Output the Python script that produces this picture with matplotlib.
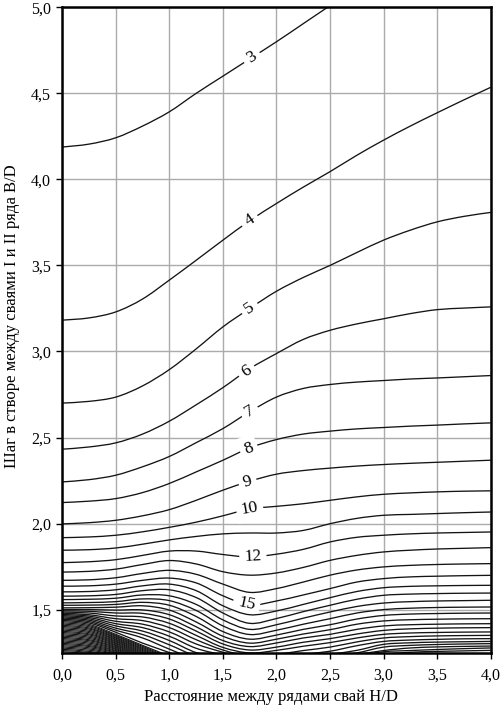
import numpy as np
import matplotlib
matplotlib.use('Agg')
import matplotlib.pyplot as plt
from matplotlib.path import Path
from matplotlib.patches import PathPatch

plt.rcParams['font.family'] = ['Liberation Serif', 'DejaVu Serif']

# ---- data ----
x_nodes = [0.0, 0.25, 0.5, 0.75, 1.0, 1.25, 1.5, 1.75, 2.0, 2.25, 2.5, 2.75, 3.0, 3.25, 3.5, 3.75, 4.0]

c03 = [4.188, 4.205, 4.242, 4.310, 4.393, 4.500, 4.600, 4.700, 4.800, 4.905, 5.010, None, None, None, None, None, None]
c04 = [3.182, 3.195, 3.230, 3.305, 3.415, 3.530, 3.647, 3.760, 3.860, 3.955, 4.045, 4.140, 4.228, 4.310, 4.387, 4.462, 4.535]
c05 = [2.700, 2.710, 2.735, 2.800, 2.895, 3.015, 3.143, 3.250, 3.350, 3.430, 3.500, 3.575, 3.647, 3.705, 3.753, 3.785, 3.808]
c06 = [2.432, 2.445, 2.469, 2.520, 2.595, 2.690, 2.790, 2.900, 2.988, 3.070, 3.123, 3.160, 3.190, 3.220, 3.243, 3.252, 3.259]
c07 = [2.242, 2.255, 2.281, 2.330, 2.390, 2.470, 2.552, 2.650, 2.735, 2.785, 2.808, 2.822, 2.831, 2.840, 2.846, 2.853, 2.860]
c08 = [2.122, 2.130, 2.145, 2.180, 2.233, 2.300, 2.368, 2.440, 2.488, 2.520, 2.537, 2.550, 2.558, 2.566, 2.572, 2.579, 2.585]
c09 = [1.998, 2.005, 2.019, 2.045, 2.081, 2.135, 2.194, 2.246, 2.287, 2.308, 2.322, 2.334, 2.343, 2.350, 2.356, 2.362, 2.368]
c10 = [1.918, 1.922, 1.932, 1.952, 1.978, 2.008, 2.045, 2.085, 2.100, 2.115, 2.135, 2.155, 2.170, 2.178, 2.184, 2.188, 2.190]
c11 = [1.845, 1.848, 1.858, 1.880, 1.905, 1.925, 1.940, 1.945, 1.945, 1.960, 1.999, 2.030, 2.048, 2.053, 2.058, 2.063, 2.067]
c12 = [1.773, 1.778, 1.790, 1.815, 1.840, 1.840, 1.820, 1.806, 1.822, 1.850, 1.893, 1.920, 1.932, 1.940, 1.945, 1.948, 1.951]
c13 = [1.718, 1.722, 1.735, 1.762, 1.785, 1.765, 1.720, 1.700, 1.713, 1.745, 1.786, 1.815, 1.835, 1.845, 1.852, 1.856, 1.860]
c14 = [1.670, 1.673, 1.685, 1.710, 1.728, 1.705, 1.648, 1.600, 1.622, 1.660, 1.700, 1.730, 1.748, 1.757, 1.762, 1.765, 1.767]
c15 = [1.636, 1.638, 1.648, 1.670, 1.683, 1.655, 1.580, 1.527, 1.550, 1.585, 1.622, 1.660, 1.680, 1.690, 1.694, 1.697, 1.699]
c16 = [1.603, 1.605, 1.615, 1.638, 1.648, 1.610, 1.522, 1.470, 1.492, 1.530, 1.569, 1.605, 1.627, 1.635, 1.638, 1.640, 1.641]
c17 = [1.578, 1.580, 1.588, 1.610, 1.615, 1.570, 1.480, 1.420, 1.448, 1.488, 1.525, 1.560, 1.583, 1.590, 1.593, 1.595, 1.596]
c18 = [1.558, 1.560, 1.566, 1.585, 1.580, 1.530, 1.440, 1.385, 1.412, 1.450, 1.486, 1.518, 1.538, 1.546, 1.550, 1.552, 1.554]
c19 = [1.539, 1.541, 1.546, 1.562, 1.552, 1.495, 1.405, 1.355, 1.380, 1.415, 1.447, 1.480, 1.500, 1.508, 1.512, 1.514, 1.515]
c20 = [1.525, 1.526, 1.530, 1.542, 1.525, 1.460, 1.372, 1.328, 1.352, 1.385, 1.412, 1.445, 1.466, 1.474, 1.477, 1.479, 1.480]
c21 = [1.510, 1.511, 1.514, 1.522, 1.497, 1.428, 1.345, 1.305, 1.328, 1.358, 1.383, 1.415, 1.434, 1.441, 1.444, 1.446, 1.447]
c22 = [1.500, 1.500, 1.497, 1.498, 1.470, 1.400, 1.320, 1.285, 1.306, 1.335, 1.356, 1.385, 1.405, 1.412, 1.415, 1.417, 1.418]
c23 = [1.493, 1.490, 1.480, 1.478, 1.445, 1.375, 1.300, 1.265, 1.282, 1.310, 1.331, 1.358, 1.379, 1.388, 1.392, 1.394, 1.395]
c24 = [1.486, 1.480, 1.463, 1.457, 1.420, 1.350, 1.280, 1.248, 1.263, 1.287, 1.308, 1.335, 1.356, 1.364, 1.367, 1.369, 1.370]
c25 = [1.479, 1.470, 1.447, 1.436, 1.395, 1.325, 1.265, 1.230, 1.240, 1.262, 1.282, 1.312, 1.335, 1.343, 1.347, 1.349, 1.350]
c26 = [1.472, 1.462, 1.432, 1.415, 1.370, 1.300, 1.252, 1.210, 1.220, 1.240, 1.258, 1.290, 1.315, 1.323, 1.327, 1.330, 1.331]
c27 = [1.465, 1.454, 1.418, 1.395, 1.345, 1.275, 1.235, 1.190, 1.200, 1.220, 1.240, 1.263, 1.298, 1.307, 1.311, 1.313, 1.315]
c28 = [1.458, 1.446, 1.405, 1.375, 1.320, 1.250, 1.220, 1.180, 1.180, 1.200, 1.225, 1.248, 1.282, 1.292, 1.297, 1.300, 1.302]
c29 = [1.451, 1.438, 1.392, 1.355, 1.295, 1.230, 1.200, 1.170, 1.170, 1.190, 1.215, 1.238, 1.262, 1.277, 1.283, 1.286, 1.288]
c30 = [1.444, 1.430, 1.380, 1.335, 1.270, 1.210, 1.180, 1.160, 1.160, 1.180, 1.205, 1.228, 1.255, 1.262, 1.268, 1.273, 1.277]
c31 = [1.437, 1.422, 1.368, 1.305, 1.250, 1.190, 1.160, 1.150, 1.150, 1.170, 1.190, 1.215, 1.240, 1.252, 1.257, 1.260, 1.263]

contour_levels = [3, 4, 5, 6, 7, 8, 9, 10, 11, 12, 13, 14, 15, 16, 17,
                  18, 19, 20, 21, 22, 23, 24, 25, 26, 27, 28, 29, 30, 31]
contour_values = [c03, c04, c05, c06, c07, c08, c09, c10, c11, c12, c13, c14, c15, c16, c17,
                  c18, c19, c20, c21, c22, c23, c24, c25, c26, c27, c28, c29, c30, c31]

# dense bundle of higher levels (32 ... 57) in the lower-left corner
bundle_x = [0.0, 0.25, 0.5, 0.75, 1.0]
bundle_at_000 = [1.430, 1.423, 1.416, 1.409, 1.402, 1.395, 1.388, 1.381, 1.374, 1.367, 1.360, 1.353, 1.346,
                 1.339, 1.332, 1.325, 1.318, 1.311, 1.304, 1.297, 1.290, 1.283, 1.276, 1.269, 1.262, 1.255]
bundle_at_025 = [1.414, 1.407, 1.400, 1.393, 1.387, 1.380, 1.373, 1.366, 1.359, 1.353, 1.346, 1.339, 1.332,
                 1.325, 1.319, 1.312, 1.305, 1.298, 1.291, 1.285, 1.278, 1.271, 1.264, 1.257, 1.251, 1.244]
bundle_at_050 = [1.356, 1.350, 1.345, 1.339, 1.334, 1.328, 1.323, 1.317, 1.312, 1.306, 1.301, 1.295, 1.290,
                 1.284, 1.279, 1.273, 1.268, 1.262, 1.257, 1.251, 1.246, 1.240, 1.235, 1.229, 1.224, 1.218]
bundle_at_075 = [1.292, 1.286, 1.280, 1.274, 1.268, 1.262, 1.256, 1.250, 1.244, 1.238, 1.232, 1.226, 1.220,
                 1.214, 1.208, 1.202, 1.196, 1.190, 1.184, 1.178, 1.172, 1.166, 1.160, 1.154, 1.148, 1.142]
bundle_at_100 = [1.230, 1.224, 1.218, 1.212, 1.206, 1.200, 1.194, 1.188, 1.182, 1.176, 1.170, 1.164, 1.158,
                 1.152, 1.146, 1.140, 1.134, 1.128, 1.122, 1.116, 1.110, 1.104, 1.098, 1.092, 1.086, 1.080]

label_levels = [3, 4, 5, 6, 7, 8, 9, 10, 12, 15]
label_x = [1.77, 1.75, 1.75, 1.72, 1.75, 1.74, 1.73, 1.75, 1.78, 1.72]

x_ticks = [0.0, 0.5, 1.0, 1.5, 2.0, 2.5, 3.0, 3.5, 4.0]
y_ticks = [1.5, 2.0, 2.5, 3.0, 3.5, 4.0, 4.5, 5.0]


def smooth_path(xs, ys):
    """Bezier path through the read points (drawn by matplotlib)."""
    pts = np.column_stack([xs, ys])
    n = len(pts)
    verts = [pts[0]]
    codes = [Path.MOVETO]
    for i in range(n - 1):
        p0 = pts[i - 1] if i > 0 else pts[i]
        p1 = pts[i]
        p2 = pts[i + 1]
        p3 = pts[i + 2] if i + 2 < n else pts[i + 1]
        verts += [p1 + (p2 - p0) / 6.0, p2 - (p3 - p1) / 6.0, p2]
        codes += [Path.CURVE4] * 3
    return Path(verts, codes)


# ---- figure ----
W, H = 502, 710
fig = plt.figure(figsize=(W / 100, H / 100), dpi=100)
left_px, right_px, top_px, bottom_px = 62.3, 490.7, 7.3, 652.6
ax = fig.add_axes([left_px / W, 1 - bottom_px / H, (right_px - left_px) / W, (bottom_px - top_px) / H])

ax.set_xticks(x_ticks)
ax.set_yticks(y_ticks)
ax.set_xticklabels([f"{v:.1f}".replace('.', ',') for v in x_ticks], fontsize=11.5)
ax.set_yticklabels([f"{v:.1f}".replace('.', ',') for v in y_ticks], fontsize=11.5)
ax.tick_params(axis='x', direction='out', length=4, width=1.0, pad=7, colors='black')
ax.tick_params(axis='y', direction='out', length=4, width=1.0, pad=4, colors='black')
ax.grid(True, color='#ababab', linewidth=1.0, zorder=0.5)
ax.set_axisbelow(True)
for sp in ax.spines.values():
    sp.set_linewidth(1.8)
    sp.set_color('black')
    sp.set_zorder(6)

ax.set_xlabel('Расстояние между рядами свай H/D', fontsize=12)
ax.xaxis.set_label_coords((271 - left_px) / (right_px - left_px), -(689 - bottom_px) / (bottom_px - top_px))
ax.set_ylabel('Шаг в створе между сваями I и II ряда B/D', fontsize=12)
ax.yaxis.set_label_coords(-(left_px - 20) / (right_px - left_px), (bottom_px - 316) / (bottom_px - top_px))

line_color = '#141414'
px_per_x = (right_px - left_px) / 4.0
px_per_y = (bottom_px - top_px) / (5.0 - 1.25)

xs_all = np.array(x_nodes, dtype=float)
for lev, vals in zip(contour_levels, contour_values):
    ys = np.array(vals, dtype=float)
    ok = np.isfinite(ys)
    xs, ys = xs_all[ok], ys[ok]
    labeled = lev in label_levels
    ax.add_patch(PathPatch(smooth_path(xs, ys), fill=False, edgecolor=line_color,
                           linewidth=0.95, zorder=2 if labeled else 4))
    if labeled:
        xl = label_x[label_levels.index(lev)]
        yl = np.interp(xl, xs, ys)
        slope = (np.interp(xl + 0.06, xs, ys) - np.interp(xl - 0.06, xs, ys)) / 0.12
        ang = np.degrees(np.arctan(slope * px_per_y / px_per_x))
        ax.text(xl, yl, str(lev), fontsize=12.5, rotation=ang, rotation_mode='anchor',
                ha='center', va='center', color='black', zorder=3,
                bbox=dict(boxstyle='square,pad=0.28', facecolor='white', edgecolor='none'))

bundle_cols = np.array([bundle_at_000, bundle_at_025, bundle_at_050, bundle_at_075, bundle_at_100])
bx = np.array(bundle_x, dtype=float)
for k in range(bundle_cols.shape[1]):
    ax.add_patch(PathPatch(smooth_path(bx, bundle_cols[:, k]), fill=False,
                           edgecolor=line_color, linewidth=0.8, zorder=4))

ax.set_xlim(0, 4)
ax.set_ylim(1.25, 5.0)

fig.savefig('out.png', dpi=100)
